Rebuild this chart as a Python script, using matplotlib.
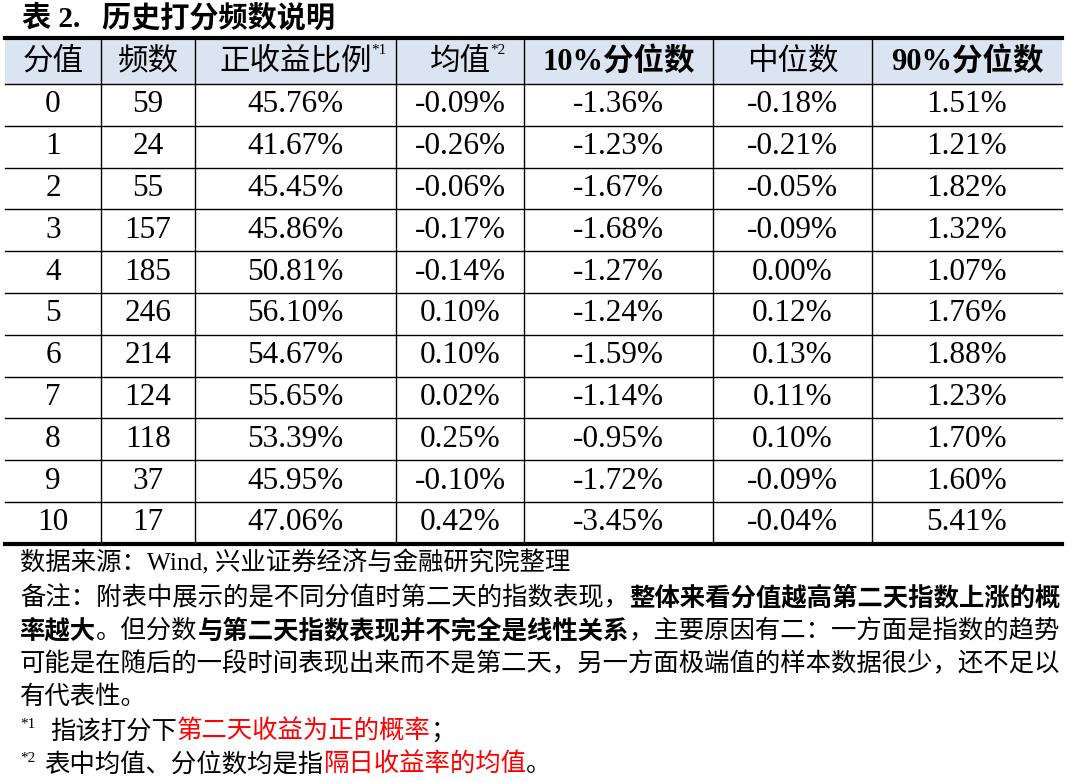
import matplotlib
matplotlib.use("Agg")
import matplotlib.pyplot as plt
from matplotlib.lines import Line2D
from matplotlib.patches import Rectangle

matplotlib.rcParams['font.family'] = ['Liberation Serif', 'Noto Sans CJK SC']

title = "表 2.   历史打分频数说明"
headers = ["分值", "频数", "正收益比例", "均值", "10%分位数", "中位数", "90%分位数"]
header_sup = ["", "", "*1", "*2", "", "", ""]
scores = [0, 1, 2, 3, 4, 5, 6, 7, 8, 9, 10]
counts = [59, 24, 55, 157, 185, 246, 214, 124, 118, 37, 17]
pos_ratio = ["45.76%", "41.67%", "45.45%", "45.86%", "50.81%", "56.10%", "54.67%", "55.65%", "53.39%", "45.95%", "47.06%"]
mean = ["-0.09%", "-0.26%", "-0.06%", "-0.17%", "-0.14%", "0.10%", "0.10%", "0.02%", "0.25%", "-0.10%", "0.42%"]
p10 = ["-1.36%", "-1.23%", "-1.67%", "-1.68%", "-1.27%", "-1.24%", "-1.59%", "-1.14%", "-0.95%", "-1.72%", "-3.45%"]
median = ["-0.18%", "-0.21%", "-0.05%", "-0.09%", "0.00%", "0.12%", "0.13%", "0.11%", "0.10%", "-0.09%", "-0.04%"]
p90 = ["1.51%", "1.21%", "1.82%", "1.32%", "1.07%", "1.76%", "1.88%", "1.23%", "1.70%", "1.60%", "5.41%"]

W, H = 1080, 782
fig = plt.figure(figsize=(W / 100, H / 100), dpi=100)
ax = fig.add_axes([0, 0, 1, 1])
ax.set_xlim(0, W)
ax.set_ylim(H, 0)
ax.axis('off')

col_edges = [5, 101, 195, 396, 524, 713, 872, 1062]
top, head_bot, row_h = 38, 84, 41.8
bottom = head_bot + row_h * len(scores)

ax.text(22, 18, title, fontsize=21, fontweight='bold', va='center', ha='left')

ax.add_patch(Rectangle((col_edges[0], top), col_edges[-1] - col_edges[0], head_bot - top,
                       facecolor='#dbe5f1', edgecolor='none'))
for c, (h, s) in enumerate(zip(headers, header_sup)):
    cx = (col_edges[c] + col_edges[c + 1]) / 2
    bold = 'bold' if '%' in h else 'normal'
    t = ax.text(cx, 62, h, fontsize=22, fontweight=bold, ha='center', va='center')
    if s:
        fig.canvas.draw()
        bb = t.get_window_extent().transformed(ax.transData.inverted())
        ax.text(bb.x1, 50, s, fontsize=11, ha='left', va='center')

columns = [[str(v) for v in scores], [str(v) for v in counts], pos_ratio, mean, p10, median, p90]
for c, col in enumerate(columns):
    cx = (col_edges[c] + col_edges[c + 1]) / 2
    for r, v in enumerate(col):
        cy = head_bot + row_h * (r + 0.5)
        ax.text(cx, cy, v, fontsize=22.5, ha='center', va='center')

# grid lines
ax.add_line(Line2D([col_edges[0], col_edges[-1]], [top, top], color='black', lw=3))
ax.add_line(Line2D([col_edges[0], col_edges[-1]], [bottom, bottom], color='black', lw=3))
for r in range(len(scores)):
    y = head_bot + row_h * r
    ax.add_line(Line2D([col_edges[0], col_edges[-1]], [y, y], color='black', lw=1))
for x in col_edges[1:-1]:
    ax.add_line(Line2D([x, x], [top, bottom], color='black', lw=1))


def segments(x, y, parts, size=18.3):
    for txt, weight, color in parts:
        t = ax.text(x, y, txt, fontsize=size, fontweight=weight, color=color, ha='left', va='center')
        fig.canvas.draw()
        bb = t.get_window_extent().transformed(ax.transData.inverted())
        x = bb.x1
    return x


segments(20, 563, [("数据来源：Wind, 兴业证券经济与金融研究院整理", 'normal', 'black')])
segments(20, 598, [("备注：附表中展示的是不同分值时第二天的指数表现，", 'normal', 'black'),
                   ("整体来看分值越高第二天指数上涨的概", 'bold', 'black')])
segments(20, 631, [("率越大", 'bold', 'black'), ("。但分数", 'normal', 'black'),
                   ("与第二天指数表现并不完全是线性关系", 'bold', 'black'),
                   ("，主要原因有二：一方面是指数的趋势", 'normal', 'black')])
segments(20, 664, [("可能是在随后的一段时间表现出来而不是第二天，另一方面极端值的样本数据很少，还不足以", 'normal', 'black')])
segments(20, 697, [("有代表性。", 'normal', 'black')])
ax.text(20, 725, "*1", fontsize=11, ha='left', va='center')
segments(50, 732, [("指该打分下", 'normal', 'black'), ("第二天收益为正的概率", 'normal', 'red'),
                   ("；", 'normal', 'black')])
ax.text(20, 758, "*2", fontsize=11, ha='left', va='center')
segments(44, 765, [("表中均值、分位数均是指", 'normal', 'black'), ("隔日收益率的均值", 'normal', 'red'),
                   ("。", 'normal', 'black')])

fig.savefig("out.png", dpi=100)
